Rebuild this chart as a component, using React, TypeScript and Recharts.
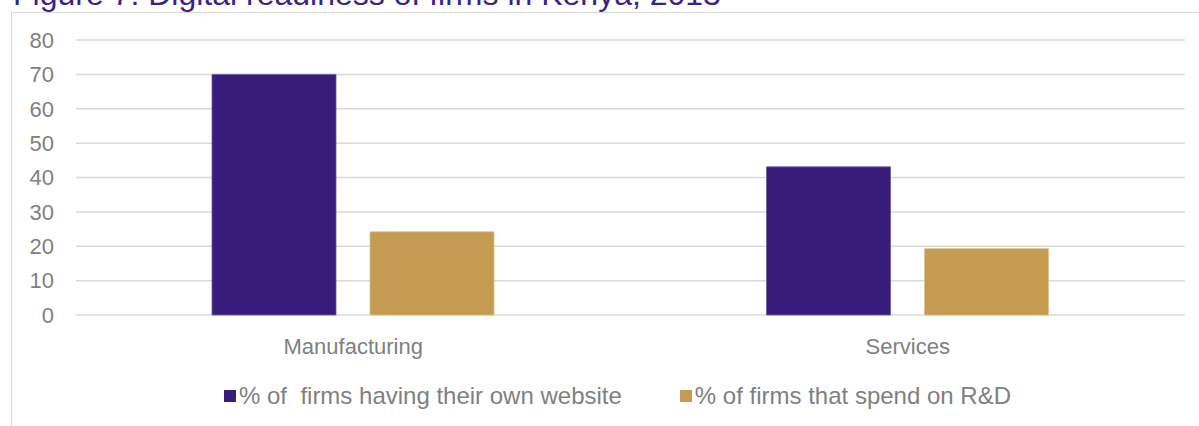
import React from 'react';
import {Bar, BarChart, CartesianGrid, Legend, XAxis, YAxis} from "recharts";

const sectors = ['Manufacturing', 'Services'];
const ownWebsite = [70, 43.1];
const spendOnRnD = [24.2, 19.3];
const yTicks = [0, 10, 20, 30, 40, 50, 60, 70, 80];

const seriesNames = ['% of  firms having their own website', '% of firms that spend on R&D'];
const seriesColors = ['#371C7B', '#C49B51'];

const chartData = sectors.map((sector, i) => ({
    sector,
    website: ownWebsite[i],
    rnd: spendOnRnD[i],
}));

const FONT = '"Liberation Sans", Arial, sans-serif';

const LegendContent = () => (
    <div style={{display: 'flex', justifyContent: 'center', alignItems: 'center', height: 40, paddingLeft: 50}}>
        {seriesNames.map((name, i) => (
            <div key={name} style={{display: 'flex', alignItems: 'center', marginRight: i === 0 ? 58 : 0}}>
                <span style={{width: 12, height: 12, background: seriesColors[i], marginRight: 3, display: 'inline-block'}}/>
                <span style={{whiteSpace: 'pre', color: '#808080', fontSize: 24, fontFamily: FONT}}>{name}</span>
            </div>
        ))}
    </div>
);

const App: React.FC = () => {
    return (
        <div style={{position: 'absolute', left: 0, top: 0, width: 1199, height: 426, overflow: 'hidden', background: '#fff'}}>
            <div style={{
                position: 'absolute', left: 13, top: -22, fontSize: 32, lineHeight: 1,
                fontFamily: FONT, color: '#3B2386', whiteSpace: 'nowrap'
            }}>
                Figure 7: Digital readiness of firms in Kenya, 2013
            </div>
            <div style={{
                position: 'absolute', left: 11, top: 12, width: 1188, height: 414,
                borderLeft: '1.5px solid #d9d9d9', borderTop: '1.5px solid #d9d9d9'
            }}/>
            <div style={{position: 'absolute', left: 0, top: 0}}>
                <BarChart
                    width={1199}
                    height={426}
                    data={chartData}
                    margin={{top: 40, right: 14, left: 0, bottom: 10}}
                    barSize={124}
                    barGap={34}
                >
                    <CartesianGrid vertical={false} stroke="#d9d9d9" strokeWidth={1.5}/>
                    <XAxis
                        dataKey="sector"
                        axisLine={false}
                        tickLine={false}
                        tickSize={0}
                        tickMargin={23}
                        height={61}
                        tick={{fill: '#808080', fontSize: 22, fontFamily: FONT}}
                    />
                    <YAxis
                        domain={[0, 80]}
                        ticks={yTicks}
                        axisLine={false}
                        tickLine={false}
                        tickSize={0}
                        tickMargin={22}
                        width={76}
                        interval={0}
                        tick={{fill: '#808080', fontSize: 22, fontFamily: FONT}}
                    />
                    <Legend verticalAlign="bottom" height={40} content={<LegendContent/>}/>
                    <Bar dataKey="website" name={seriesNames[0]} fill={seriesColors[0]} stroke="#6A58A8" strokeWidth={0.8} isAnimationActive={false}/>
                    <Bar dataKey="rnd" name={seriesNames[1]} fill={seriesColors[1]} stroke="#DCC08E" strokeWidth={0.8} isAnimationActive={false}/>
                </BarChart>
            </div>
        </div>
    );
};

export default App;
